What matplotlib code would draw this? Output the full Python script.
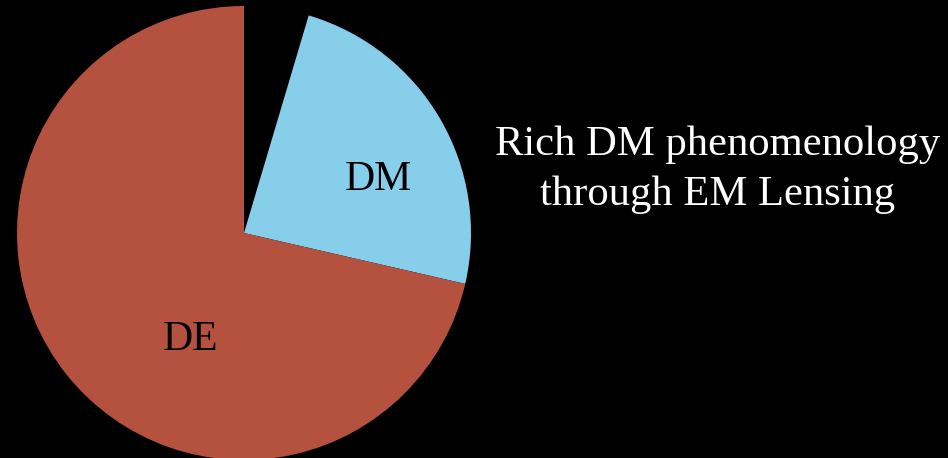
import matplotlib.pyplot as plt

labels = ["Baryons", "DM", "DE"]
shares = [4.6, 24.0, 71.4]
colors = ["black", "#87CEEB", "#B5513F"]

plt.rcParams["font.family"] = ["Liberation Serif", "DejaVu Serif"]

fig = plt.figure(figsize=(9.48, 4.58), dpi=100, facecolor="black")
ax = fig.add_axes([0, 0, 1, 1])
ax.set_facecolor("black")

ax.pie(shares, colors=colors, startangle=90, counterclock=False,
       center=(244, 225), radius=227, frame=True,
       wedgeprops={"linewidth": 0})
ax.set_xlim(0, 948)
ax.set_ylim(0, 458)
ax.set_aspect("equal")
ax.axis("off")

ax.text(378, 278, "DM", fontsize=30, color="black", ha="center", va="center")
ax.text(191, 118, "DE", fontsize=30, color="black", ha="center", va="center")
ax.text(718, 288, "Rich DM phenomenology\nthrough EM Lensing", fontsize=30.7,
        color="white", ha="center", va="center", linespacing=1.38)

fig.savefig("out.png", dpi=100, facecolor="black")
